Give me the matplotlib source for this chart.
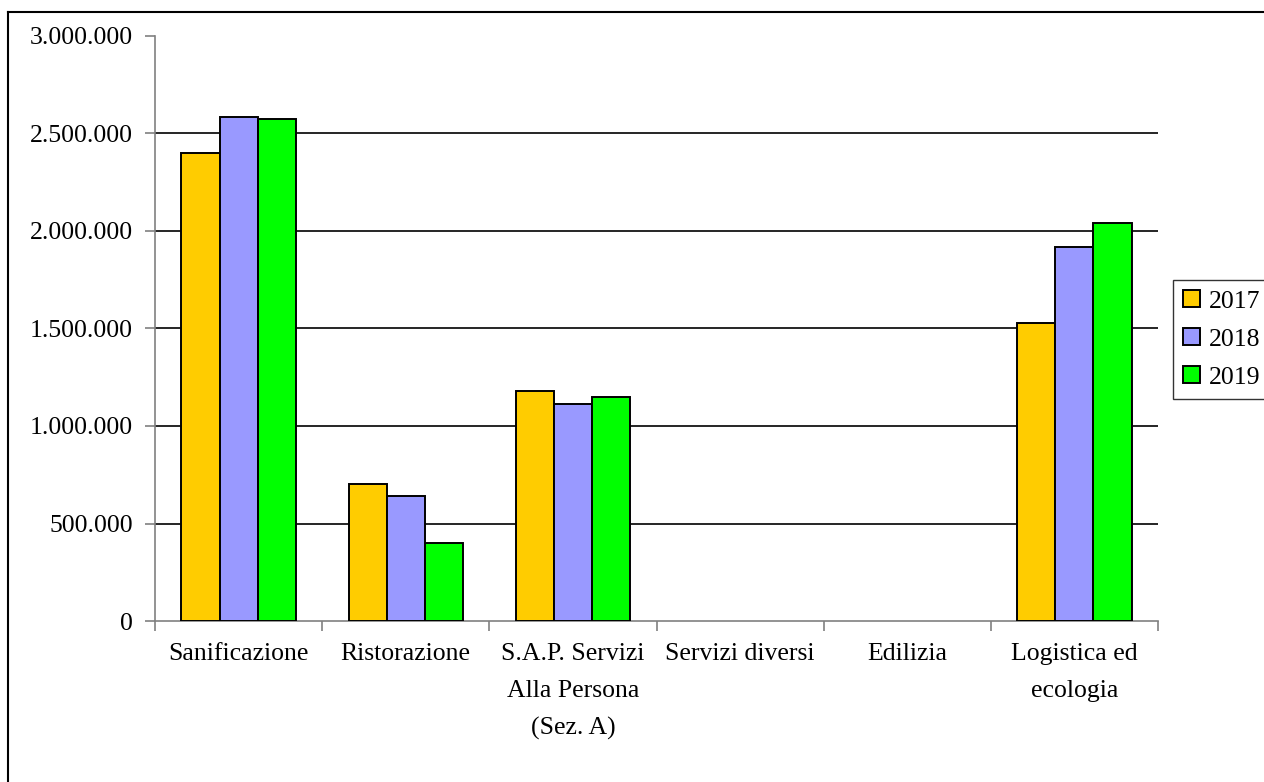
import numpy as np
import matplotlib.pyplot as plt
from matplotlib.lines import Line2D
from matplotlib.ticker import FuncFormatter

categories = ['Sanificazione', 'Ristorazione', 'S.A.P. Servizi\nAlla Persona\n(Sez. A)',
              'Servizi diversi', 'Edilizia', 'Logistica ed\necologia']
years = ['2017', '2018', '2019']
v2017 = [2400000, 705000, 1181000, 0, 0, 1528000]
v2018 = [2583000, 640000, 1113000, 0, 0, 1916000]
v2019 = [2573000, 398000, 1150000, 0, 0, 2043000]
colors = ['#FFCC00', '#9999FF', '#00FF00']

plt.rcParams['font.family'] = ['Liberation Serif', 'DejaVu Serif']
FS = 18.5

fig = plt.figure(figsize=(12.64, 7.82), dpi=100)
ax = fig.add_axes([155 / 1264, 1 - 621 / 782, (1158 - 155) / 1264, (621 - 36) / 782])

x = np.arange(len(categories))
w = 0.228
for i, (vals, yr) in enumerate(zip([v2017, v2018, v2019], years)):
    bars = ax.bar(x + (i - 1) * w, vals, w, color=colors[i], edgecolor='black',
                  linewidth=1.4, label=yr, zorder=3)
    # empty categories show no outline at all
    for b, v in zip(bars, vals):
        if v == 0:
            b.set_visible(False)

ax.set_xlim(-0.5, len(categories) - 0.5)
ax.set_ylim(0, 3000000)
ax.set_yticks(np.arange(0, 3000001, 500000))
ax.yaxis.set_major_formatter(FuncFormatter(lambda v, p: f'{int(v):,}'.replace(',', '.')))
for yv in np.arange(500000, 3000000, 500000):
    ax.axhline(yv, color='black', linewidth=1.2, zorder=1)

ax.set_xticks(np.arange(len(categories) + 1) - 0.5, minor=False)
ax.set_xticklabels([])
ax.set_xticks(x, minor=True)
ax.set_xticklabels(categories, minor=True, fontsize=FS, linespacing=1.85, va='top')
ax.tick_params(axis='x', which='minor', length=0, pad=16)
ax.tick_params(axis='x', which='major', length=7, color='#808080', width=1.2)
ax.tick_params(axis='y', length=7, color='#808080', width=1.2, labelsize=FS, pad=9)

for s in ['top', 'right']:
    ax.spines[s].set_visible(False)
for s in ['left', 'bottom']:
    ax.spines[s].set_color('#808080')
    ax.spines[s].set_linewidth(1.2)

leg = ax.legend(loc='upper left', bbox_to_anchor=(1173 / 1264, 1 - 280 / 782),
                bbox_transform=fig.transFigure, fontsize=FS, frameon=True,
                fancybox=False, edgecolor='black', handlelength=0.65, handleheight=0.65,
                handletextpad=0.35, labelspacing=0.6, borderpad=0.4, borderaxespad=0)
leg.get_frame().set_linewidth(1.0)

# outer chart border (left and top edges)
fig.add_artist(Line2D([8 / 1264, 8 / 1264], [0, 1 - 12 / 782], color='black', linewidth=1.5))
fig.add_artist(Line2D([8 / 1264, 1], [1 - 12 / 782, 1 - 12 / 782], color='black', linewidth=1.5))

fig.savefig('out.png', dpi=100)
